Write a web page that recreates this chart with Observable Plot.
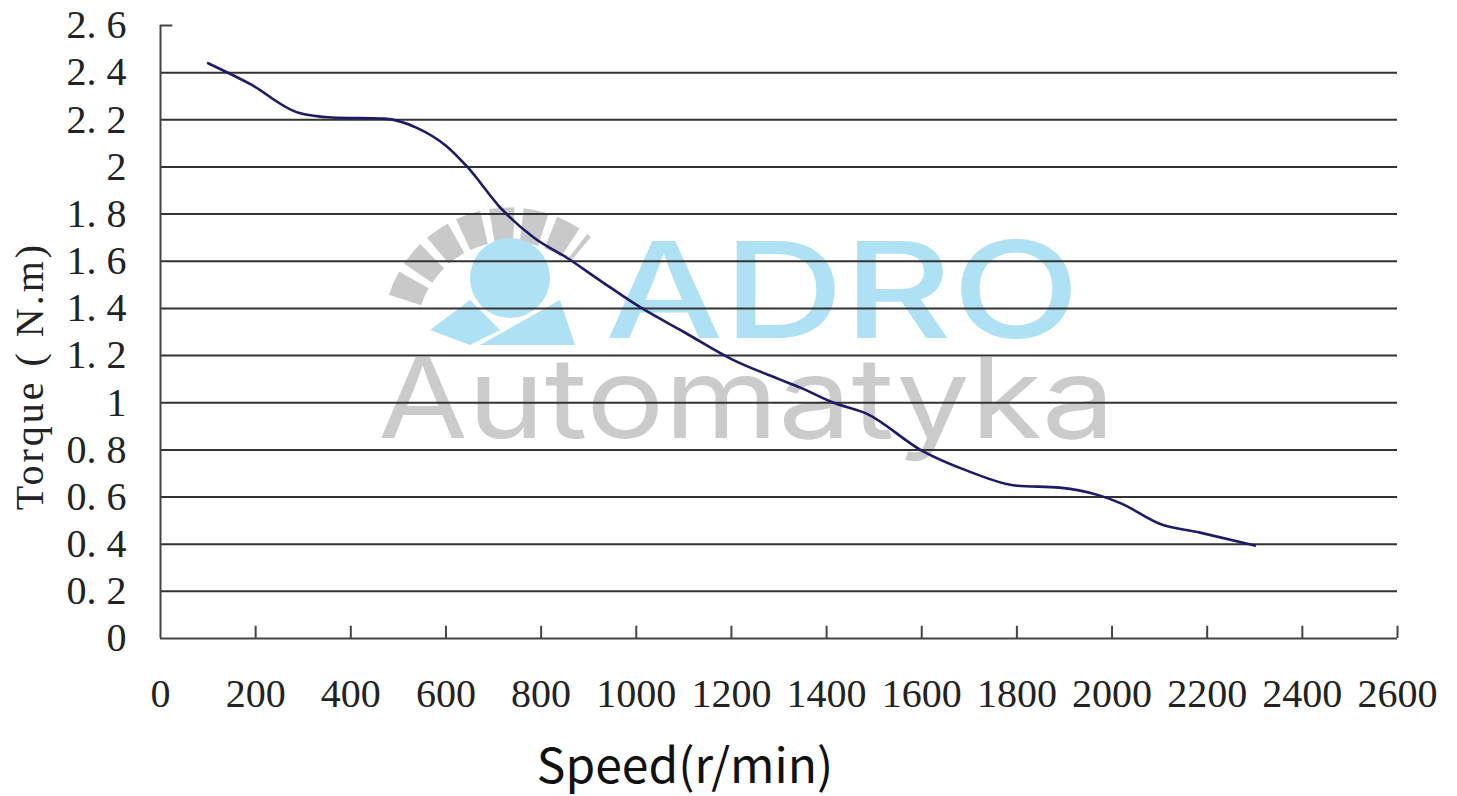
<!DOCTYPE html>
<html>
<head>
<meta charset="utf-8">
<script src="https://cdn.jsdelivr.net/npm/d3@7"></script>
<script src="https://cdn.jsdelivr.net/npm/@observablehq/plot@0.6"></script>
<style>
  html, body { margin: 0; padding: 0; background: #fff; }
  #wrap { position: relative; width: 1457px; height: 796px; overflow: hidden; }
  #wm { position: absolute; left: 0; top: 0; width: 1457px; height: 796px; z-index: 0; }
  #chart { position: absolute; left: 0; top: 0; z-index: 1; }
  #xlabel { position: absolute; left: 0; top: 734px; width: 1370px; text-align: center;
            font-family: "Noto Sans CJK SC", "Open Sans", sans-serif; font-size: 48px; line-height: 56px; color: #111; z-index: 2; }
  #ylabel { position: absolute; left: 30px; top: 376px; transform: translate(-50%, -50%) rotate(-90deg);
            white-space: nowrap; font-family: "Liberation Serif", serif; font-size: 40px; line-height: 40px;
            letter-spacing: 3px; color: #222; z-index: 2; }
</style>
</head>
<body>
<div id="wrap">
  <svg id="wm" width="1457" height="796">
    <g opacity="0.9">
      <path d="M 405 300 A 110 110 0 0 1 580 250" fill="none" stroke="#c4c4c4" stroke-width="34" stroke-dasharray="22 8"/>
      <circle cx="510" cy="278" r="40" fill="#a6def2"/>
      <path d="M 430 330 L 470 300 L 500 330 L 470 345 Z" fill="#a6def2"/>
      <path d="M 480 345 L 560 300 L 575 345 Z" fill="#a6def2"/>
      <text x="605" y="338" font-family="Inter, 'Noto Sans', sans-serif" font-size="134" font-weight="500" fill="#a6def2" textLength="475" lengthAdjust="spacingAndGlyphs">ADRO</text>
      <text x="378" y="438" font-family="Inter, 'Noto Sans', sans-serif" font-size="112" font-weight="400" fill="#c6c6c6" textLength="737" lengthAdjust="spacingAndGlyphs">Automatyka</text>
    </g>
  </svg>
  <div id="chart"></div>
  <div id="ylabel"></div>
  <div id="xlabel"></div>
</div>
<script>
// Speed (r/min) and torque (N.m)
const speed  = [100, 190, 290, 360, 470, 540, 600, 645, 715, 785, 855, 925, 1010, 1100, 1200, 1300, 1345, 1415, 1485, 1600, 1695, 1800, 1890, 1975, 2020, 2100, 2185, 2300];
const torque = [2.44, 2.35, 2.23, 2.21, 2.205, 2.165, 2.09, 2.0, 1.826, 1.70, 1.614, 1.517, 1.403, 1.30, 1.185, 1.10, 1.064, 1.0, 0.953, 0.797, 0.712, 0.648, 0.64, 0.606, 0.572, 0.487, 0.449, 0.394];

const xTicks = [0, 200, 400, 600, 800, 1000, 1200, 1400, 1600, 1800, 2000, 2200, 2400, 2600];
const yTicks = [0, 0.2, 0.4, 0.6, 0.8, 1, 1.2, 1.4, 1.6, 1.8, 2, 2.2, 2.4, 2.6];
const gridValues = [0.2, 0.4, 0.6, 0.8, 1, 1.2, 1.4, 1.6, 1.8, 2, 2.2, 2.4];
const xTitle = "Speed(r/min)";
const yTitle = "Torque ( N.m)";

document.getElementById("xlabel").textContent = xTitle;
document.getElementById("ylabel").textContent = yTitle;

const data = speed.map((s, i) => ({speed: s, torque: torque[i]}));
const fmtY = d => d === 0 ? "0" : String(+d.toFixed(1)).replace(".", ". ");

const chart = Plot.plot({
  width: 1457,
  height: 725,
  marginLeft: 160,
  marginRight: 60,
  marginTop: 25,
  marginBottom: 87,
  style: {background: "transparent", overflow: "visible"},
  x: {domain: [0, 2600], ticks: xTicks},
  y: {domain: [0, 2.6], ticks: yTicks},
  marks: [
    Plot.ruleY(gridValues, {x1: 0, x2: 2600, stroke: "#333", strokeWidth: 2}),
    Plot.ruleX(xTicks.slice(1), {y1: 0, y2: 0.052, stroke: "#444", strokeWidth: 2}),
    Plot.ruleY([2.6], {x1: 0, x2: 26, stroke: "#444", strokeWidth: 2}),
    Plot.ruleX([0], {y1: 0, y2: 2.6, stroke: "#444", strokeWidth: 2}),
    Plot.ruleY([0], {x1: 0, x2: 2600, stroke: "#444", strokeWidth: 2}),
    Plot.axisX({ticks: xTicks, tickSize: 0, tickPadding: 40, label: null, tickFormat: d => String(d),
      fontFamily: "Liberation Serif, serif", fontSize: 40, fill: "#222"}),
    Plot.axisY({ticks: yTicks, tickSize: 0, tickPadding: 34, label: null, tickFormat: fmtY,
      fontFamily: "Liberation Serif, serif", fontSize: 40, fill: "#222"}),
    Plot.line(data, {x: "speed", y: "torque", curve: "monotone-x", stroke: "#1d1b66", strokeWidth: 2.6})
  ]
});
document.getElementById("chart").appendChild(chart);
</script>
</body>
</html>
